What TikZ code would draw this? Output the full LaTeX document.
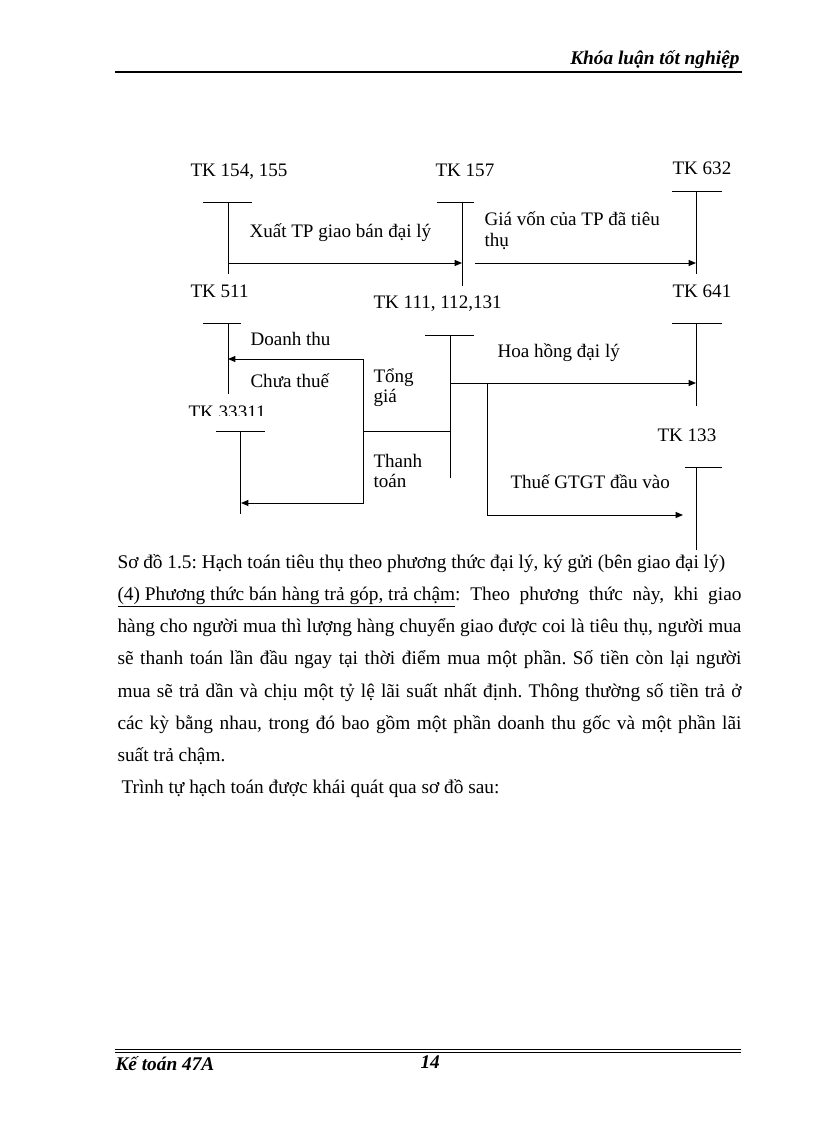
\documentclass[tikz,border=0pt]{standalone}
\usepackage{fontspec}
\setmainfont{Liberation Serif}
\usetikzlibrary{arrows.meta}
\frenchspacing
\begin{document}
\begin{tikzpicture}[x=0.75pt,y=-0.75pt,line width=0.75pt,
    >={Triangle[length=5.5pt,width=4.5pt]},
    lbl/.style={font=\fontsize{14.3}{16}\selectfont,inner sep=0pt,anchor=base west},
    body/.style={font=\fontsize{14.5}{16}\selectfont,inner sep=0pt,anchor=base west},
    bi/.style={font=\fontsize{14.5}{16}\selectfont\bfseries\itshape,inner sep=0pt}]
  \useasboundingbox (0,0) rectangle (816,1123);
  % header
  \node[bi,anchor=base east] (head) at (740,65) {Khóa luận tốt nghiệp};
  \draw[line width=1.6pt] (115,72) -- (742,72);
  % accounts
  \draw
    (190,177) node[lbl] (t154) {TK 154, 155}
    (435,177) node[lbl] (t157) {TK 157}
    (672,175) node[lbl] (t632) {TK 632}
    (190,297) node[lbl] (t511) {TK 511}
    (373,308) node[lbl] (t111) {TK 111, 112,131}
    (672,297) node[lbl] (t641) {TK 641}
    (657,441) node[lbl] (t133) {TK 133};
  \begin{scope}
    \clip (180,398) rectangle (275,415);
    \node[lbl] (t33311) at (188,418) {TK 33311};
  \end{scope}
  \draw (203,203) -- (252,203) (228,203) -- (228,274);
  \draw (437,203) -- (474,203) (462,203) -- (462,286);
  \draw (672,192) -- (722,192) (696,192) -- (696,274);
  \draw (203,323) -- (241,323) (228,323) -- (228,394);
  \draw (425,335) -- (474,335) (450,335) -- (450,478);
  \draw (672,323) -- (722,323) (696,323) -- (696,406);
  \draw (216,431) -- (265,431) (240,431) -- (240,514);
  \draw (685,467) -- (722,467) (696,467) -- (696,550);
  % ends of the entries
  \coordinate (a154) at (228,263);
  \coordinate (a157) at (462,263);
  \coordinate (b157) at (475,263);
  \coordinate (a632) at (696,263);
  \coordinate (a511) at (228,359);
  \coordinate (c1) at (363,359);
  \coordinate (c2) at (363,503);
  \coordinate (a333) at (241,503);
  \coordinate (c3) at (363,431);
  \coordinate (a111) at (450,431);
  \coordinate (b111) at (450,383);
  \coordinate (a641) at (696,383);
  \coordinate (c4) at (487,383);
  \coordinate (c5) at (487,515);
  \coordinate (a133) at (683,515);
  \begin{scope}
    \draw[->] (a154) -- (a157);
    \draw[->] (b157) -- (a632);
    \draw[->] (b111) -- (a641);
    \draw[<->] (a511) -- (c1) -- (c2) -- (a333);
    \draw (c3) -- (a111);
    \draw[->] (c4) -- (c5) -- (a133);
  \end{scope}
  % entry labels
  \draw
    (249,238) node[lbl] (l1) {Xuất TP giao bán đại lý}
    (484,226) node[lbl] (l2) {Giá vốn của TP đã tiêu}
    (484,246) node[lbl] (l3) {thụ}
    (250,345) node[lbl] (l4) {Doanh thu}
    (250,387) node[lbl] (l5) {Chưa thuế}
    (373,382) node[lbl] (l6) {Tổng}
    (373,402) node[lbl] (l7) {giá}
    (373,467) node[lbl] (l8) {Thanh}
    (373,487) node[lbl] (l9) {toán}
    (497,357) node[lbl] (l10) {Hoa hồng đại lý}
    (510,488) node[lbl] (l11) {Thuế GTGT đầu vào};
  % text below
  \node[body] (p1) at (117,568) {Sơ đồ 1.5: Hạch toán tiêu thụ theo phương thức đại lý, ký gửi (bên giao đại lý)};
  \node[body] (p2) at (117,600) {\makebox[468pt][s]{\underline{(4) Phương thức bán hàng trả góp, trả chậm}: Theo phương thức này, khi giao}};
  \node[body] (p3) at (117,632) {\makebox[468pt][s]{hàng cho người mua thì lượng hàng chuyển giao được coi là tiêu thụ, người mua}};
  \node[body] (p4) at (117,664) {\makebox[468pt][s]{sẽ thanh toán lần đầu ngay tại thời điểm mua một phần. Số tiền còn lại người}};
  \node[body] (p5) at (117,697) {\makebox[468pt][s]{mua sẽ trả dần và chịu một tỷ lệ lãi suất nhất định. Thông thường số tiền trả ở}};
  \node[body] (p6) at (117,729) {\makebox[468pt][s]{các kỳ bằng nhau, trong đó bao gồm một phần doanh thu gốc và một phần lãi}};
  \node[body] (p7) at (117,761) {suất trả chậm.};
  \node[body] (p8) at (121,793) {Trình tự hạch toán được khái quát qua sơ đồ sau:};
  % footer
  \draw[line width=1.1pt] (115,1049.5) -- (741,1049.5);
  \draw[line width=0.6pt] (115,1052.5) -- (741,1052.5);
  \node[bi,anchor=base west] (foot) at (115,1070) {Kế toán 47A};
  \node[bi,anchor=base west] (page) at (420,1068) {14};
\end{tikzpicture}
\end{document}
